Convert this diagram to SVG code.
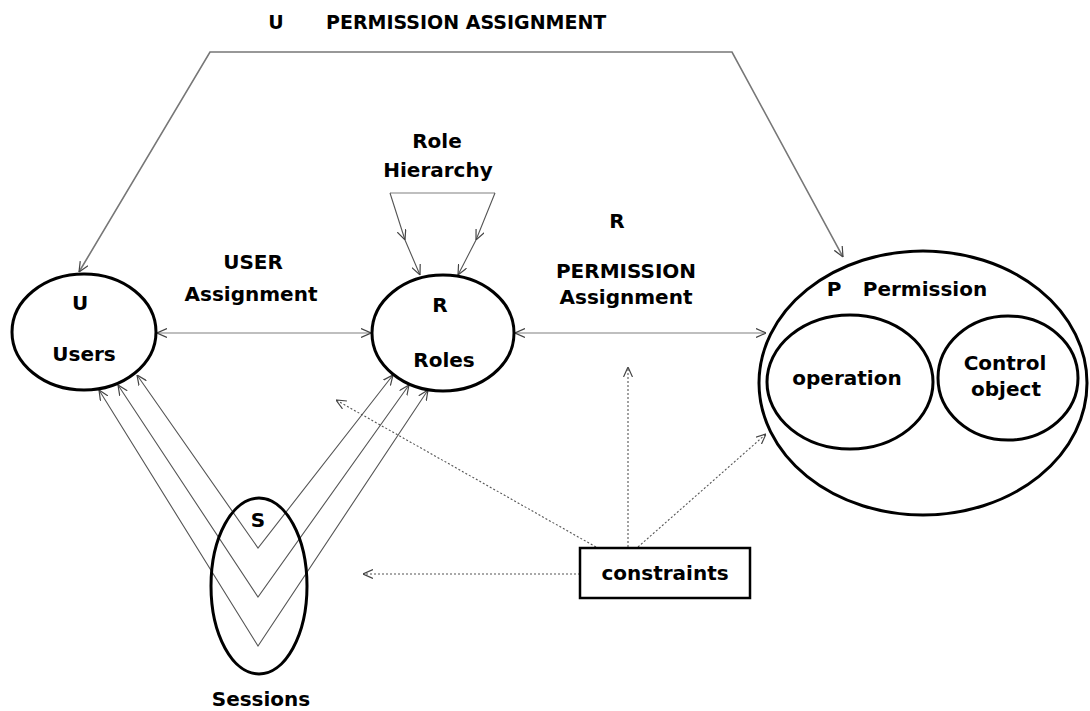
<svg xmlns="http://www.w3.org/2000/svg" width="1090" height="711" viewBox="0 0 1090 711">
<defs>
<marker id="ah" viewBox="0 0 10 10" refX="10" refY="5" markerWidth="10" markerHeight="10" markerUnits="userSpaceOnUse" orient="auto-start-reverse">
<path d="M0,0.5 L10,5 L0,9.5" fill="none" stroke="#444" stroke-width="1.2"/>
</marker>
<style>
text{font-family:"DejaVu Sans","Liberation Sans",sans-serif;font-weight:bold;font-size:20px;fill:#000;text-anchor:middle}
.node{fill:none;stroke:#000;stroke-width:3}
.box{fill:#fff;stroke:#000;stroke-width:2.5}
.c{fill:none;stroke:#555;stroke-width:1.1}
.g{fill:none;stroke:#aaa;stroke-width:1.6}
.top{fill:none;stroke:#777;stroke-width:1.6}
.d{fill:none;stroke:#555;stroke-width:1.1;stroke-dasharray:2 2}
</style>
</defs>
<rect width="1090" height="711" fill="#fff"/>
<text x="276" y="29" style="font-size:19px">U</text>
<text x="326" y="29" style="text-anchor:start;font-size:19px">PERMISSION ASSIGNMENT</text>
<g id="connectors">
<polyline class="top" points="79,272 210,52 732,52 843,257" marker-start="url(#ah)" marker-end="url(#ah)"/>
<line class="g" x1="157" y1="333" x2="371" y2="333" marker-start="url(#ah)" marker-end="url(#ah)"/>
<line class="g" x1="515" y1="333" x2="766" y2="333" marker-start="url(#ah)" marker-end="url(#ah)"/>
<line class="g" x1="390" y1="193" x2="495" y2="193"/>
<polyline class="c" points="390,193 405,240 420,275" marker-mid="url(#ah)" marker-end="url(#ah)"/>
<polyline class="c" points="495,193 476,240 458,275" marker-mid="url(#ah)" marker-end="url(#ah)"/>
<polyline class="c" points="137,375 258,548 393,375" marker-start="url(#ah)" marker-end="url(#ah)"/>
<polyline class="c" points="118,385 258,597 409,385" marker-start="url(#ah)" marker-end="url(#ah)"/>
<polyline class="c" points="99,390 258,646 428,390" marker-start="url(#ah)" marker-end="url(#ah)"/>
<line class="d" x1="596" y1="547" x2="336" y2="400" marker-end="url(#ah)"/>
<line class="d" x1="628" y1="547" x2="628" y2="367" marker-end="url(#ah)"/>
<line class="d" x1="638" y1="547" x2="766" y2="434" marker-end="url(#ah)"/>
<line class="d" x1="580" y1="574" x2="363" y2="574" marker-end="url(#ah)"/>
</g>
<g id="role-hierarchy">
<text x="437" y="148">Role</text>
<text x="438" y="177">Hierarchy</text>
</g>
<g id="user-assignment">
<text x="253" y="269">USER</text>
<text x="251" y="301">Assignment</text>
</g>
<g id="permission-assignment">
<text x="617" y="228">R</text>
<text x="626" y="278">PERMISSION</text>
<text x="626" y="304">Assignment</text>
</g>
<g id="users">
<ellipse class="node" cx="84" cy="332" rx="72" ry="58"/>
<text x="80" y="310">U</text>
<text x="84" y="361">Users</text>
</g>
<g id="roles">
<ellipse class="node" cx="443" cy="333" rx="71" ry="58"/>
<text x="440" y="312">R</text>
<text x="444" y="367">Roles</text>
</g>
<g id="permission">
<ellipse class="node" cx="923" cy="383" rx="164" ry="132"/>
<text x="834" y="296">P</text>
<text x="925" y="296">Permission</text>
<g id="operation">
<ellipse class="node" cx="850" cy="382" rx="83" ry="67"/>
<text x="847" y="385">operation</text>
</g>
<g id="control-object">
<ellipse class="node" cx="1008" cy="378" rx="70" ry="62"/>
<text x="1005" y="370">Control</text>
<text x="1006" y="396">object</text>
</g>
</g>
<g id="sessions">
<ellipse class="node" cx="259" cy="586" rx="48" ry="88"/>
<text x="258" y="527">S</text>
<text x="261" y="706">Sessions</text>
</g>
<g id="constraints">
<rect class="box" x="580" y="548" width="170" height="50"/>
<text x="665" y="580">constraints</text>
</g>
</svg>
